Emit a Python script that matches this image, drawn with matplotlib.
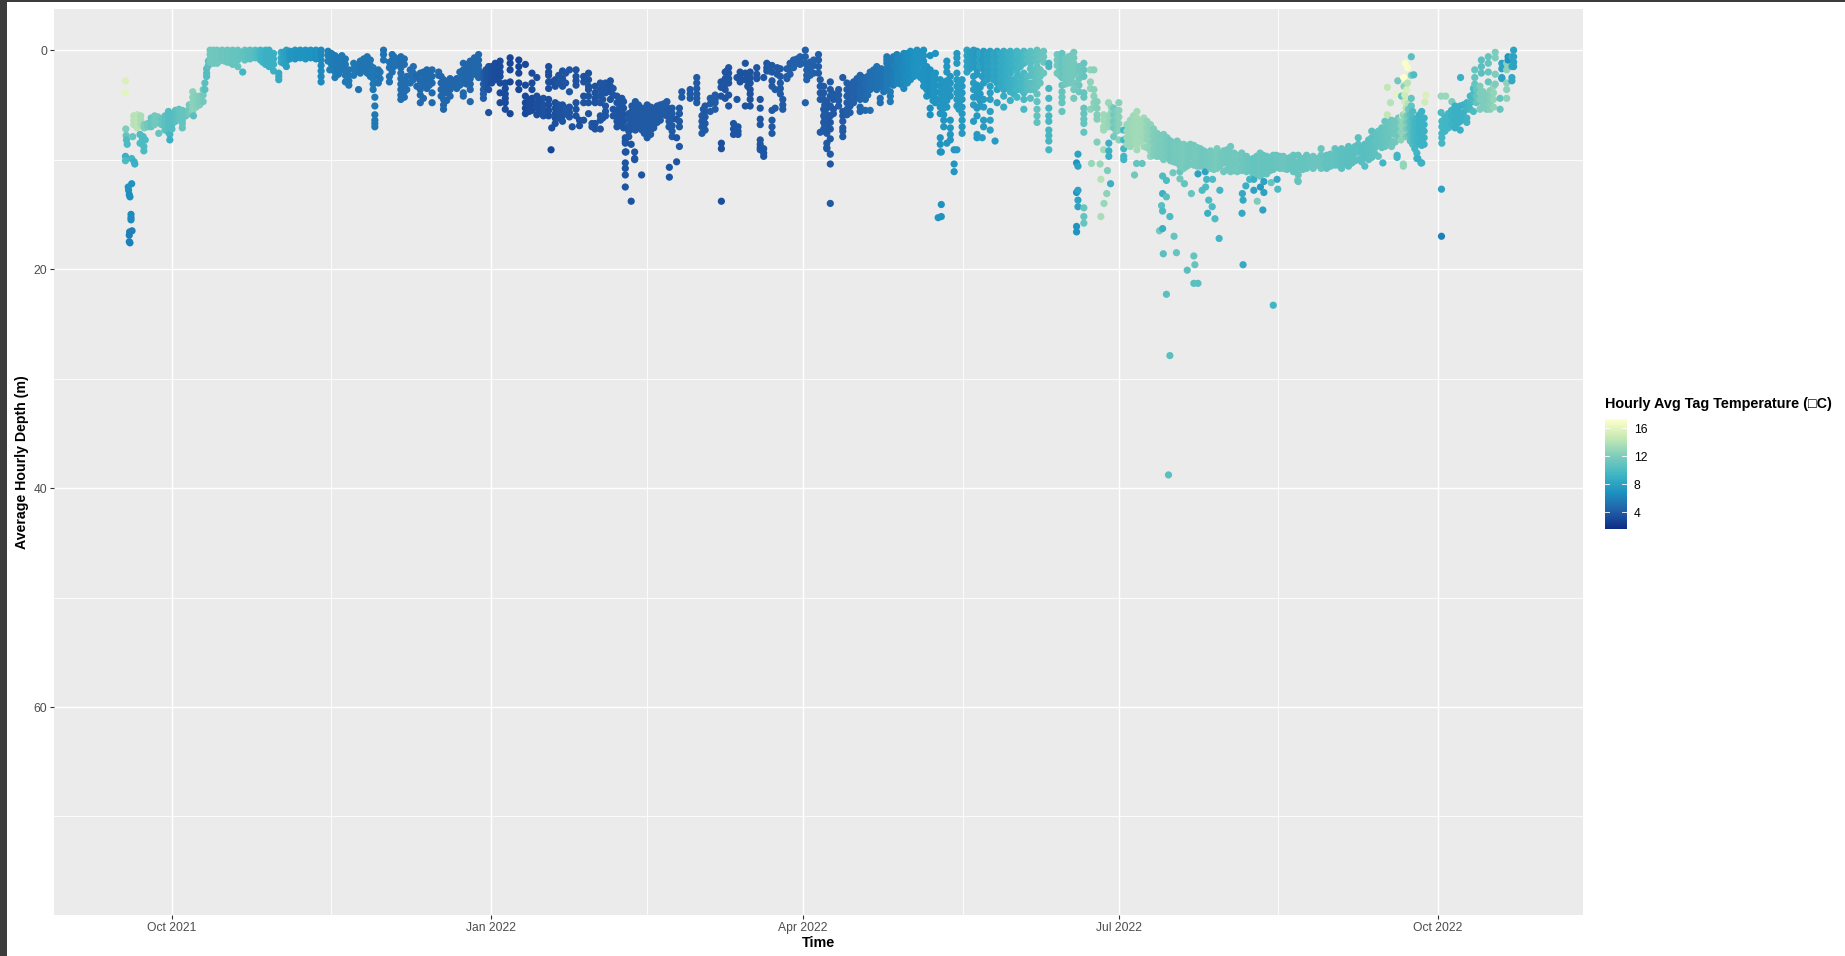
import matplotlib
matplotlib.use("Agg")
import matplotlib.pyplot as plt
import matplotlib.dates as mdates
from matplotlib.colors import LinearSegmentedColormap, Normalize
from matplotlib.cm import ScalarMappable
from matplotlib.patches import Rectangle
import numpy as np

plt.rcParams['font.family'] = ['Liberation Sans', 'DejaVu Sans']

# x values are days since 1 Oct 2021, y values are depth in metres, t is degrees C
origin_date = "2021-10-01"

sep21_days = [-11,-10,-9,-8,-7,-6,-5,-4,-3,-2,-1,0,1,2,3,4,5,6,7,8,9,9.5,10,10.5]
sep21_temps = [14,14.2,13.5,12,11.5,11,11.5,11.5,11,10.6,10.2,10.2,10.5,10.8,11,11,11.5,12.5,12.3,12,11.5,10.5,10.3,10.5]
sep21_depths = [[6.0,6.4,6.8],[5.9,6.3,6.7,7.1],[6.0,6.4,6.8],[6.8,7.1],[6.7,7.0],[6.2,6.6,7.0],[6.0,6.4,6.8],[6.1,6.6],[6.3,6.8],
 [6.0,6.4,6.9,7.3],[5.6,6.0,6.5,7.0,7.5],[5.8,6.3,6.8,7.2],[5.5,6.0,6.5],[5.4,5.8,6.3],[5.5,6.0,6.4],[5.6,6.0],[5.0,5.4,5.8],
 [3.8,4.3,4.8,5.2,5.6],[4.2,4.7,5.2],[4.2,4.6,5.0],[3.6,4.1,4.7],[3.0,3.6],[1.7,2.1,2.4],[1.0,1.4]]

oct21_days = [11,12,13,14.5,16,17.5,19,20.4,21,22.5,24,25.5,27,28,29.3,30.8,31.5,33,34,35.5,37,38.5,40,41.5,43,45,45.5]
oct21_temps = [11.4,11.4,11.3,11.2,11.1,11,11,9.5,10.8,10.5,10.2,9.5,9.2,9,9,8.6,8.6,7.8,7.3,7.2,7.1,7,6.9,6.8,6.4,6,6]
oct21_depths = [[0,.4,.8,1.1],[0,.4,.8,1.2],[0,.4,.8,1.2],[0,.4,.8],[0,.4,.8,1.1],[0,.4,.8,1.3],[0,.4,.9,1.5],[2.0],[0,.4,.9],[0,.4,.8],
 [0,.4,.7],[0,.4,.9],[0,.5,1,1.3],[0,.5,1,1.5],[.3,.8,1.3,1.9],[2.1,2.4,2.7],[.2,.7,1.1],[0,.5,1,1.5],[.1,.5,.8],[0,.4,.8],[0,.4,.7],[0,.4,.8],[0,.4,.7],[0,.4,.8],
 [0,.4,.9,1.4,1.9,2.4,2.9],[.1,.5,1.0],[1.8]]

nov21_days = [47,49,51,52.4,53.8,54.3,56.3,58,58.5,59.5,61,62.7,64,66]
nov21_temps = [5.7,5.6,5.5,5.5,5.3,5.4,5.4,5.5,5.6,5.4,5.3,5.2,5.2,5.0]
nov21_depths = [[.5,1,1.5,2,2.5],[.5,1,1.5,1.8],[1.8,2.3,2.8,3.2],[1.2,1.7,2.3],[3.6],[1,1.5,2.1],[.6,1.1,1.6,2.1],[1.6,2.1,2.6,3.1,3.6],
 [4.3,5.1,5.9,6.4,6.7,7.0],[1.8,2.4,3.0],[0,.4,.9],[1.1,1.6,2.4,2.9],[.6,1,1.5],[.6,1.1,1.6,2.1,2.6,3.1,3.6,4.1,4.5]]

dec21_days = [67.7,69.6,71.6,73.5,75,76.9,78.3,80.2,82.1,84,86,88.4,89.8,91.3,93.2,94.6,96.1,97.5,100,101.9,103.8,105.2,107.1,108.6,109.3,109.5,110.5]
dec21_temps = [5,5,4.8,4.8,4.8,4.8,4.6,4.6,4.6,4.7,4.6,4.7,4.2,3.6,3.3,3.2,3.2,3.0,3.0,3.1,3.2,3.4,3.6,3.4,2.9,3.4,3.5]
dec21_depths = [[2.4,3,3.6],[1.5,2.1,2.7],[2.1,2.8,3.6,4.1,4.8],[1.8,2.4,3,3.5],[1.8,2.4,3,3.9,4.8],[2,2.3],[2.7,3.3,3.9,4.5,5,5.4],[2.6,3.1,3.6,4.2],
 [2.6,3,3.5],[1.2,1.8,2.4,3,3.9,4.2],[1,1.5,2,2.6,3.1,3.6,4.7],[.4,.9,1.4,1.8,2.2,2.5],[2.1,2.6,3.1,3.6,4,4.4],[1.5,2,2.5,3,3.6,5.7],
 [1.2,1.7,2.2,2.7],[1,1.5,2,2.4,3,3.9,4.8],[3,3.5,4,4.4,4.8,5.4],[.7,1.2,1.8,2.9,5.8],[.9,1.5,2.1,3,3.6],[1.3,3.2,4.2,4.8,5.3,5.8],[2.1,3,3.6,4.4,4.9,5.5],[2.5,4.2,4.8,5.3,5.9],
 [4.4,5,5.5,6],[1.5,2,2.3,2.9,3.5,4.5,5,5.5,6],[9.1],[7.1,2.9],[2.7,3.3,4.8,5.3,5.8,6.2,6.7]]

jan22_days = [112.6,114.6,115.4,116.5,117.5,118.7,120.1,121.1,122,123.5,125,126.4,128.3,129.7,130.7,130.9,131.7,132.4,133.4,133.6,135.4,135.5,137,138.9,140.8,142.7,143.4,144.2,145.5,146.3]
jan22_temps = [3.6,3.8,3.6,3.6,3.5,3.6,3.6,3.8,3.6,3.7,3.8,3.6,3.8,3.8,3.8,3.7,3.9,3.6,3.7,4,3.7,4,4,4,4,4.1,3.8,4,3.8,3.9]
jan22_depths = [[1.9,2.6,3.3,5,5.5,6,6.5],[1.8,3.8,5.2,5.7,6.1],[7.0],[1.8,2.4,2.8,3.2,4.8,5.4,6],[6.4,6.9],[2.4,2.9,4.2,4.8,6.4],[2.1,2.7,3.3,3.6,4.2,4.8,5.8],[7,6.7],
 [3.3,3.9,4.4,4.8,6.7,7.2],[3,3.6,4.2,4.8,6,6.4,7.2],[3,3.5,3.9,5.1,5.6,6],[2.8,3.3,3.8,4.5],[4.2,4.8,5.5,6,6.5,7],[4.4,5.1,5.6,6.2,6.9],[8,8.3,8.5,9.3,10.3,10.8,11.4,12.5],[9.3],
 [5.8,6.3,6.9,7.4,7.9],[13.8,8.6],[9.9,9.3,10],[4.7,5.3,5.9,6.4,6.9,7.3],[11.4],[5.3,5.8,6.3,6.8,7.3],[5,5.5,6,6.5,7,7.5,8],[5.3,5.8,6.3,6.9,7.1],[5,5.5,6,6.4],[4.7,5.2,5.6,6],[10.7,11.6],[5.3,5.8,6.3,6.9,7.4,7.9],[8,10.2,6.3],[5.3,5.8,6.5,7,8.8]]

mar22_days = [147,149.4,151.3,152.8,153.7,155.2,156.6,158.3,158.4,159.5,160.5,161.9,162.9,163.2,163.8,165.3,166.7,168.6,169.6,170.6,171.5,173,173.9,175.4,176.1,177.3,179.2,181.1,182.6,183,185,186.4]
mar22_temps = [4,3.9,4,4,3.9,4.1,4.1,3.8,3.4,3.7,3.7,3.8,3.8,3.8,3.6,3.6,3.6,3.7,3.8,3.8,3.8,3.9,4,4,4,4.2,4.3,4.4,4.3,4.4,4.3,4.2]
mar22_depths = [[3.8,4.3],[3.6,4,4.4],[2.5,3,3.5,4,4.4,4.8],[6,6.5,7,7.6],[5.1,5.6,6.1,6.7,7.3],[4.4,4.9,5.6],[4.1,4.5,4.8,5.4],[2.9,3.4,4.2],[8.5,9,13.8],[2,2.6,3.1,3.6,4.4],
 [1.6,2.1,2.6,3,4.1,5.1],[6.7,7.2,7.7],[4.5,2.5],[7,7.4,7.7],[2,2.4,2.9],[1.2,2.1,2.7,5.1],[2,2.5,3,3.6,4,4.5,5.1],[1.6,2.2,2.6],[4.5,5.3,6.3,6.8,8.2,8.6,9.1,8.9],[2.5,9,9.4,9.7],
 [1.2,1.6,1.9],[1.4,2,2.8,3.3,5.5,6.4,7,7.6],[3.6,5.3],[1.7,2.4,3,3.5,4],[4.5,5,5.4],[1.7,2.4,2.6],[.9,1.3,1.6],[.6,1,1.3],[0,.6,1.2,4.8],[1.3,1.8,2.3,2.7],[.9,1.4,2.1],[.4,.9,1.5,2.1]]

apr22_days = [186.9,187.9,188.8,189.8,190.7,192.2,193.4,194.6,196.5,198.4,199.9,201.3,203.2,204.2,205.2,206.1,207.1,209,211,212.9,214.8,216.7]
apr22_temps = [4.1,4,4,3.9,4,4.1,4,4.2,4.4,4.6,4.8,5,5.2,5,5.3,5.6,5.6,6.1,6.4,6.7,7,6.9]
apr22_depths = [[2.7,3.3,3.9,4.5,7.5],[3.3,3.9,4.5,5.4,6,6.6,7.2],[4.7,5.3,5.9,6.5,7,7.6,8.9,8.5,9],[2.9,3.6,4.2,5.1,6,6.6,7.2,8.1,9.5,10.4,14],[4,4.5,5.4,5.8],[3.6,4.1,4.6,5.1],[2.5,5.6,6,6.5,7.1,7.9,7.4],[3,3.6,4.2,4.8,5.4,5.9],
 [2.9,3.4,3.9,4.5,4.8],[2.3,2.8,3.4,4,4.5,5.2,5.6],[2.6,3.2,3.8,4.5,5.5],[2,2.5,3.1,3.6,5.5],[1.5,2,2.6,3.1,3.6],[4.4,4.8],[2,2.5,3,3.5,3.8],[.6,.9,1.2,1.7,2.2,2.7,3.1,3.6],[1.7,2.2,2.8,3.1,3.8,4.2,4.7],
 [.4,.9,1.4,1.9,2.4,3],[.3,.8,1.3,1.8,2.3,2.8,3.5],[.1,.6,1.1,1.6,2.1,2.7],[0,.5,1,1.5,2.1],[0,.5,1,1.7,2.2,2.8,3.3]]

may22_days = [218.6,220.1,220.9,221.5,221.8,222.5,223.4,224.4,225.5,226.3,227.8,229.2,231.1,232.1,233.6,234,235.9,237.3,237.9]
may22_temps = [6.8,7,7,7,6.9,7.2,7.2,7.2,7.2,7.4,7.4,8,7.6,7.4,7.6,7.6,7.8,7.6,8]
may22_depths = [[.5,1.8,2.3,2.9,3.5,4.1,5.3,5.9],[.3,2.1,2.6,3.2,3.8,4.4,4.8],[15.3],[2.7,3.3,3.9,4.5,5.2,5.8,8,8.6,9.3],[9.3,14.1,15.2],[3,3.6,4.2,4.8,5.3,5.9,6.4,7],[1,1.5,2,2.8,3.4,4,4.6,5.2,8.5],[2.4,3,3.6,4.2,6.4,7.1,7.7,8.2],
 [10.4,11.1,9.1],[.3,.7,1.2,2.1,2.7,3.3,3.9,4.5,5.1,9.1],[2.7,3.3,3.9,4.5,5.2,5.8,6.4,7,7.6],[0,.5,1,1.5,2],[0,.5,1,1.5,2.4,3,3.6,4.3,5,6.5],[.1,.6,1.2,1.8,2.2,3.2,3.8,4.3,5.3,6,7.7,8],[8,.9,2.4],
 [.1,.6,1.2,1.8,2.4,3,4.5,5.2,6.4,7],[.1,.6,1.2,1.8,2.4,3.3,3.9,4.5,5.6,6.4,7.3],[8.3],[.1,.6,1.2,1.8,2.4,3,3.6,4.8]]

jun22_days = [239.8,241.7,243.6,245.6,247.5,249.4,251.3,252.8,255.2,256.6,258.5,260,260.8,261.2,262.9,264.8,265.8,266.7]
jun22_temps = [8.6,9,9.4,9.8,10.4,10.8,11.2,9.6,11.4,11,11.5,11.6,7,8,11,12.6,12.4,12.2]
jun22_depths = [[.1,.6,1.2,1.8,2.4,3,3.6,4.2,5.2],[.1,.6,1.2,1.8,2.1,2.7,3.2,3.8,4.6],[.1,.6,1.2,1.9,2.4,3,3.6,4.3],[.1,.6,1.2,2.1,2.7,3.3,3.9,4.5,5.4],[.1,.6,1.2,1.7,2.3,3,3.6,4.4],
 [0,.4,1,1.5,2.1,2.7,3.3,4,4.7,5.4,6,6.6],[.1,.6,1.1,2.1],[1.2,1.5,3.5,4.4,5.3,6,6.5,7.3,7.8,8.3,9.1],[.4,.9,1.4,2.1],[.3,.8,1.3,1.9,2.5,3.2,3.8,4.3,4.8,5.6],[.6,1.1,1.6,2.1,2.6,3],
 [.2,.7,1.2,1.7,2.2,3,3.6,4.4],[10.3,16.1,16.6,13],[9.5,10.6,12.8,13.7,14.3],[1.2,1.8,2.4,3.9,4.3,5.3,5.8,6.3,6.7,7.5,14.4,15.2,15.8],[1.8,2.9,3.5,5.4],[1.8,3.6,4.2,4.8,5.2],[4.7,5.3,5.9,6.3,8.4]]

jul22_days = [268.6,270,270.1,271.5,273,274.4,276.3,278.2,280.2,282.1,284,285.9,287.9,289.8,291.7,293.6,295.6,297.5,299.4,301.3,303.2,305.2,307.1,309.8,311.7,313.7,315.6,317.5]
jul22_temps = [13.2,13,9,11.5,12.4,9.5,13,13.4,13.2,12.6,12,11.8,11.4,11.6,11.8,11.5,11.7,11.4,11.6,11.8,11.5,11.4,11.5,11.2,11,11.2,11,11]
jul22_depths = [[5.9,6.4,7,7.3,9.1],[4.8,6,6.6,7],[8.5,9.2,9.7],[5.3,5.9,6.5,7.1,7.9],[4.8,5.5,6.1,6.7,7.3,8.2],[7.3,8.2,9,9.7,10],[6.4,7.1,7.7,8.3,8.8],[5.6,6.2,6.8,7.4,8,8.6,9.1],[6.2,6.8,7.4,8,8.8],[6.8,7.3,7.9,8.5,9.2,9.7],
 [7.6,8.2,8.7,9.2,9.7],[7.7,8.3,8.9,9.4,10],[8.3,8.8,9.4,10.1],[8.3,8.8,9.4,10,10.3],[8.6,9.2,9.8,10.3,10.8],[8.6,9.1,9.7,10.4],[8.9,9.5,10,10.6],[9.2,9.7,10.2,10.5],[9.2,9.7,10.3,10.8],[9,9.6,10.2,10.8],[9.2,9.8,10.3,11.1],
 [8.8,9.4,10,10.6,11.1],[9.6,10.1,10.7,11.1],[9.7,10.2,10.7,11.1],[9.9,10.4,11,11.5],[9.4,10,10.5,11,11.5],[9.7,10.2,10.8,11.3],[9.6,10.1,10.6,10.9]]

aug22_days = [319.4,321.4,323.3,324.7,327.1,329,331.3,332.9,335.3,337.2,339.2,341.1,342,343.9,345.9,347.8,349.1,349.7,351.6,353.2,353.6,355,356.5,357.7,358.9,360.3,361]
aug22_temps = [11.2,11.2,11,11,11,11.2,11.2,10.8,10.8,10.6,10.5,10.5,10.5,10.4,10.6,10.8,9.5,11,11.3,9.5,11.4,12.8,11.4,10,9.4,9.2,9.2]
aug22_depths = [[9.7,10.2,10.8],[9.9,10.4,10.9],[9.6,10.1,10.6,11.1],[9.6,10.2,10.8,11.4,12],[9.6,10.1,10.8],[9.7,10.2,10.8],[9,9.6,10.2,10.8],[9.6,10.1,10.8],[9,9.6,10.1,10.5],[9,9.6,10.2,10.8],
 [8.8,9.4,10,10.6],[8.8,9.4,10.1],[8,8.6,9.2,10],[8.6,9.2,9.8,10.6],[7.4,8,8.6,9.2,9.8],[7.4,8,8.6,9.7],[10.3],[6.5,7.1,7.7,8.3,8.8],[6.4,7,7.6,8.3,8.8],[9.6,9.8],[6.2,6.8,7.4,8],[5.9,6.5,7.1,7.8,10.4,10.6],
 [5.4,6,6.6,7.2,7.8],[5.6,6.2,6.8,7.4,8,8.6],[6.2,6.8,7.4,8,8.6,9.4,9.9],[5.6,6.2,6.8,7.4,8,8.7,10.3],[6.2,6.8,7.4,8,8.6]]

oct22_days = [366.1,368,369.9,371.4,373.3,375.2,375.6,377.1,377.5,379,379.5,381,381.5,382.9,383.4,384.8,385.2,386.3,386.8]
oct22_temps = [9.6,9.4,9,9,9.3,10,11,12,10.5,12,11,12.8,12,11,8,12.5,7,8.5,8]
oct22_depths = [[6.5,7,7.6,8,8.5],[5.8,6.3,7.1],[5.1,5.7,6.3,7.1],[5.1,5.8,6.5,7.3],[4.8,5.4,6.2,6.6],[3.5,4,4.7,5.6],[1.8,2.5,3.1],[3.3,3.9,4.5,5.4],[.9,1.5,2.1],[4.1,4.7,5.4],[.6,1.2,2,2.9],[3.3,3.9,4.5,5.2],[.2,.7,2.2,3.1],[4.4,5.4],[1.2,1.7,2.5,2.6],[1.2,1.8,3,3.6,4.4],[.6,.9],[.6,1.5,2.5,2.8],[0,.6,1.1,1.5]]

# more points read between the columns above, where the cloud is dense
early_fill_days = [11.7,13.7,15.2,16.7,18.2,20,21.7,23.2,24.7,26.2,27.5,32.2,34.7,36.2,37.7,39.2,40.7,42.2,46,48,50,53,55.3,57.2,60,63.5,65,67,68.7,70.6,72.5,74.2,77.6,79.2,81.2,83,85,87.2,90.5,92.2,103,106.2,111.5,113.5,124.2,127.2,129,130.2,132.6,134.5,136.2,138,139.9,141.8,143.3]
early_fill_temps = [11.4,11.4,11.3,11.2,11,10.8,10.6,10.4,10,9.3,9,8,7.2,7,7,7,7,7,5.8,5.6,5.5,5.5,5.4,5.4,5.4,5.2,5.2,5,5,4.8,4.8,4.8,4.6,4.6,4.6,4.7,4.6,4.7,3.8,3.4,3.2,3.4,3.6,3.7,3.7,3.7,3.8,3.8,3.9,4,4,4,4,4.1,4]
early_fill_depths = [[.2,.6,1],[.2,.6,1],[.2,.6,1],[.2,.6,1.1],[.2,.7,1.2],[.2,.6],[.2,.6],[.2,.6],[.2,.6],[.2,.7,1.1],[.2,.7,1.2],[.2,.7,1.2],[.2,.6],[.2,.6],[.2,.6],[.2,.6],[.2,.6],[.2,.6],
 [.3,.8,1.3],[.7,1.2,1.7,2.2],[.8,1.3,1.8,2.3,2.9],[1.4,1.9],[.8,1.3,1.8],[.9,1.4,1.9,2.4],[2,2.6],[.4,.9,2],[.8,1.3],[.8,1.3,2.8,3.3,3.8,4.3],[1.8,2.4,3],[2.4,3.3],[2,2.6,3.2,4.4],[2.1,2.7,3.2],[2.4,3,3.6,4.2],[2.9,3.4,3.9,4.6],[2.8,3.3],[2,2.6,3.2],[1.3,1.9,2.5,3.1],[.7,1.2,1.7,2.2],[1.8,2.3,2.8,3.3],[1.5,2,2.5,3],
 [4.6,5.1,5.6],[4.5,5,5.6],[2.3,3,5,5.6,6.2],[2.1,3,5.3,5.8],[3.3,3.9,4.5,6.2],[3.5,4.1,5.4,6],[4.7,5.3,5.9,6.4],[4.7,5.3,5.9,6.5,7.1],[5.1,5.6,6.2,6.7,7.2],[5,5.6,6.1,6.6,7.1],[5.4,6,6.5,7,7.6],[5.2,5.7,6.2,6.8,7.3,7.7],[5.1,5.6,6.1,6.6],[4.9,5.4,5.9],[5.5,6,6.5,7]]

mid_fill_days = [153.2,160,166,172.3,174.5,178.2,180.2,184,188.2,195.5,197.5,199.2,200.6,202.3,204.5,206.6,208,210,212,213.9,215.8,217.6,219.4,222,226.9,230,232.8,233,235,236.8,238.8,240.8,242.7,244.6,246.5,248.5,250.3,256,257.5,259.3,261.5]
mid_fill_temps = [4,3.7,3.6,3.9,3.9,4.2,4.3,4.3,4,4.2,4.4,4.7,4.9,5.1,5.2,5.6,5.8,6.2,6.6,6.9,7,6.9,7,7.2,7.4,7.8,8,7.4,7.9,8.2,8.5,8.8,9.2,9.6,10.2,10.6,11,11.3,11.4,11.5,11.3]
mid_fill_depths = [[5.4,5.9,6.4,7],[1.9,2.4,2.8],[2.3,2.8,3.3],[1.4,1.9],[1.6,2.2],[1.2,1.7,2.2],[.8,1.2],[1.1,1.7,2.3],[5,5.6,6.2,6.8,7.4],[3.3,3.9,4.5,5.1,5.7],[2.6,3.2,3.7,4.3],[2.5,3.1,3.7,4.3],[2.4,2.9,3.4,4.1],[1.8,2.3,2.9,3.4],[1.7,2.3,2.8,3.3],[1,1.5,2,2.5,3],[.6,1.1,1.7,2.2,2.7,3.2],[.6,1.1,1.6,2.1,2.6,3.1],[.3,.8,1.3,1.9,2.4,3],[.2,.7,1.3,1.8,2.4],[.2,.7,1.2,2,2.5],[1.5,2,2.6,3.1,3.6,4.2],[2.3,2.9,3.5,4.1,4.6],
 [2.9,3.5,4.1,4.7,5.3],[3,3.6,4.2,4.8,5.4],[.2,.7,1.2,1.7],[.3,.9,1.5],[3.4,4,4.6,5.1],[.3,.9,1.5,2.1,2.7],[.3,.9,1.5,2.1,2.7],[.3,.9,1.5,2.1,2.7,3.3],[.3,.9,1.5,2.1,2.7,3.3],[.3,.9,1.5,2.7,3.3,4],[.3,.9,1.5,2.4,3,3.6],[.3,.9,2.4,3,3.6],[.3,.9,1.8,2.4,3,3.6],[.3,.8,1.8,2.4,3],[.6,1.1,1.7,2.3],[.8,1.3,1.9,2.5,3.1],[.5,1,1.5,2,2.5,3],[1.5,2,2.6,3.2,3.8]]

late_fill_days = [270.8,272.2,275.3,277.2,279.2,281.1,283,285,286.9,288.8,290.7,292.6,294.6,296.5,298.4,300.4,302.2,304.2,306.2,308.4,310.8,312.7,314.6,316.6,318.4,320.4,322.4,326,328,330,332,334,336.2,338.2,340.2,343,345,346.9,348.8,350.6,352.6,354.3,355.8,357,358.3,359.6,367,368.9,370.6,372.3,374.3,376.1,378,380]
late_fill_temps = [12.8,12,13,13.2,13.3,12.8,12.2,11.9,11.6,11.6,11.7,11.6,11.6,11.5,11.5,11.7,11.6,11.4,11.4,11.3,11.1,11,11,11,11.1,11.2,11,11,11.1,11.2,11,10.8,10.7,10.6,10.5,10.4,10.5,10.7,10.9,11.2,11.4,12.5,12,10.5,9.6,9.2,9.5,9.2,9,9.1,9.6,11,12,12.3]
late_fill_depths = [[5.2,5.7,6.3,6.8],[5.6,6.2,6.8,7.4],[6.8,7.4,8,8.6],[6,6.6,7.2,7.8,8.4],[6.5,7.1,7.7,8.3],[6.5,7.1,7.7,8.2,8.9],[7.2,7.8,8.4,9,9.6],[7.8,8.5,9.1,9.7],[8,8.6,9.1,9.7],[8.6,9.1,9.7,10.2],[8.6,9,9.6,10.1,10.6],[8.8,9.4,10,10.6],[8.7,9.3,9.9,10.5],[9,9.5,10.1,10.6],[9.4,10,10.5],[9.4,9.9,10.5,10.9],[9.5,10,10.6],[9.1,9.7,10.3,10.9],[9.4,10,10.5,11],[9.4,10,10.6,11],[10,10.5,11],[9.7,10.2,10.8,11.3],[9.6,10.2,10.8,11.3],[9.8,10.4,11],[9.6,10.1,10.7],[9.7,10.3,10.8],[9.8,10.3,10.8],
 [9.9,10.4,10.9],[9.9,10.5],[9.9,10.5],[9.8,10.4],[9.5,10,10.6],[9.3,9.9,10.5],[9.2,9.8,10.4],[9.1,9.7,10.3],[8.9,9.5,10.2],[8.2,8.8,9.4,10],[7.7,8.3,8.9,9.5],[7.1,7.7,8.3,8.9],[6.7,7.3,7.9,8.6],[6.5,7.1,7.7,8.4],[6.3,6.9,7.5,8.2],[6,6.6,7.2,7.9],[5.9,6.5,7.1,7.7,8.3],[6.5,7.1,7.7,8.3,9],[5.9,6.5,7.1,7.7,8.4],
 [6.1,6.7,7.4],[5.5,6,6.7],[5.4,6,6.7],[5,5.7,6.3],[4.2,4.8,5.4],[3.6,4.2,4.8],[3.8,4.4,5],[3.7,4.3,4.9,5.4]]

# isolated points
spot_days = [-13.4,-13.4,-13.3,-13.2,-13.1,-12.9,-13.4,-13.4,-11.6,-10.9,-10.7,-11.6,-12.6,-12.5,-12.3,-12.1,-11.8,-11.8,-11.8,-12.2,-11.5,-12.3,-12.3,-12.1,
 -11.3,-9.2,-8.3,-9.2,-7.7,-8.1,-8.1,-8.5,-3.8,-0.6,-0.6,3,3,6.2,
 265.1,267.6,269.7,267.8,270.6,269.5,268.7,267.8,277.5,278.1,279.7,285.6,286.7,285.6,286.7,285.3,285.6,287.7,285.6,284.7,288.9,285.8,289.6,294.6,294.9,292.7,294.6,295.8,286.7,
 288.6,290.6,290.6,291.9,293.9,297,298,298.3,300,298.9,299.9,298.6,300.7,301.9,302.1,308.8,308.5,308.8,308.6,309.6,310.7,311.9,311.9,313.8,314.8,314.8,314.5,312.9,316.9,318.8,318.6,295.8,297.9,324.5,
 287.7,287.3,317.5,
 355.5,356.2,355.1,357.3,358,357.3,353.4,355.2,356.2,350.4,356,353.1,354.5,355.4,357.3,361.5,361.2,351.3,355.4,356.4,357.3,355.8,355.7,350.4,354.8,359.2,360.1,
 365.9,367.2,365.9,369,371.5,366,366]
spot_depths = [2.8,3.9,7.2,7.8,8.2,8.6,9.7,10.1,9.9,10.2,10.4,12.2,12.5,12.8,13.2,13.4,15,15.3,15.5,16.6,16.5,16.9,17.5,17.6,
 7.9,7.7,7.9,8.5,8.2,8.8,9.2,8.1,7.6,7.7,8.2,7.1,6.7,6.0,
 10.35,10.4,11,11.8,12.2,13.1,14,15.2,11.4,10.35,10.35,11.5,11.9,13.1,13.4,14.2,14.7,15.2,16.3,16.5,17,18.6,18.5,18.8,19.6,20.1,21.3,21.3,22.3,
 11.2,11.1,11.75,12.2,13.1,12.8,12.5,11.8,11.8,13.7,14.3,14.9,15.4,17.2,12.8,19.6,14.9,13.7,13.1,12.4,11.8,11.8,12.8,12.5,12,13,14.6,13.8,12.1,12.7,11.8,11.3,11.1,11.9,
 27.9,38.8,23.3,
 1.2,1.6,2.5,.6,2.25,2.3,2.8,3.3,3,3.4,3.6,4,4.2,4.1,4.4,4.1,4.75,4.8,4.7,4.9,5.1,5.3,5.8,5.9,6,9.9,10.3,
 4.2,4.2,5.7,4.7,2.5,12.7,17]
spot_temps = [15.5,16,12,11,10,10,9,10,9.5,9,9,7,7,7,6.8,6.8,6.5,6.5,6.5,6,6,6,6,6,
 11,10,10,10,10,10,10,10,11,9.5,9,11,11,10.5,
 13,13,12,14,9,12.5,13,13.5,11.5,11,11,10,10,9,10.5,10.5,10,10,9,11.5,11,10.5,11,11,11,10.5,10.5,10.5,10.5,
 11.5,11,11.5,11,11,10,10,9.5,10,10,10,9,10,9.5,9.5,8.5,8.5,8.5,8.5,9,9.5,9,8,7.5,8,8,8,12,11,10,8.5,8,8,12,
 10.5,10.5,9.5,
 17,17,17.3,10.5,10,12,11.5,12.5,14,14.5,15.5,16,11,15,11,15.5,15,14,15,14,11,14,14.5,14.5,15,9,8.5,
 13,13,10,12,9,8,6]

sections = [(sep21_days, sep21_temps, sep21_depths), (oct21_days, oct21_temps, oct21_depths), (nov21_days, nov21_temps, nov21_depths),
            (dec21_days, dec21_temps, dec21_depths), (jan22_days, jan22_temps, jan22_depths), (mar22_days, mar22_temps, mar22_depths),
            (apr22_days, apr22_temps, apr22_depths), (may22_days, may22_temps, may22_depths), (jun22_days, jun22_temps, jun22_depths),
            (jul22_days, jul22_temps, jul22_depths), (aug22_days, aug22_temps, aug22_depths), (oct22_days, oct22_temps, oct22_depths),
            (early_fill_days, early_fill_temps, early_fill_depths), (mid_fill_days, mid_fill_temps, mid_fill_depths),
            (late_fill_days, late_fill_temps, late_fill_depths)]

x_vals, y_vals, c_vals = list(spot_days), list(spot_depths), list(spot_temps)
for days, temps, depths in sections:
    for d, t, ds in zip(days, temps, depths):
        for v in ds:
            x_vals.append(d); y_vals.append(v); c_vals.append(t)
x_vals, y_vals, c_vals = map(np.array, (x_vals, y_vals, c_vals))
order = np.argsort(x_vals, kind="stable")
base = mdates.datestr2num(origin_date)

palette = ["#0C2C84", "#225EA8", "#1D91C0", "#41B6C4", "#7FCDBB", "#C7E9B4", "#FFFFCC"]
cmap = LinearSegmentedColormap.from_list("ylgnbu_r", palette)
norm = Normalize(1.6, 17.3)

W, H = 1845, 956
fig = plt.figure(figsize=(W / 100, H / 100), dpi=100, facecolor="white")
ax = fig.add_axes([54 / W, 1 - 915 / H, (1583 - 54) / W, (915 - 9) / H], facecolor="#EBEBEB")

ax.scatter(base + x_vals[order], y_vals[order], c=c_vals[order], cmap=cmap, norm=norm, s=27, linewidths=0, zorder=3)

ax.set_xlim(base - 34, base + 406.8)
ax.set_ylim(79, -3.76)

x_ticks = ["2021-10-01", "2022-01-01", "2022-04-01", "2022-07-01", "2022-10-01"]
x_labels = ["Oct 2021", "Jan 2022", "Apr 2022", "Jul 2022", "Oct 2022"]
x_minor = ["2021-11-16", "2022-02-15", "2022-05-17", "2022-08-16"]
y_ticks = [0, 20, 40, 60]
y_minor = [10, 30, 50, 70]

ax.set_xticks(mdates.datestr2num(x_ticks), x_labels)
ax.set_xticks(mdates.datestr2num(x_minor), minor=True)
ax.set_yticks(y_ticks)
ax.set_yticks(y_minor, minor=True)
ax.grid(True, which="major", color="white", linewidth=1.05, zorder=1)
ax.grid(True, which="minor", color="white", linewidth=0.6, zorder=1)
ax.set_axisbelow(True)
ax.tick_params(which="minor", length=0)
ax.tick_params(which="major", length=2.7, width=0.8, color="#333333", labelcolor="#4D4D4D", labelsize=8.7, pad=2.4)
for s in ax.spines.values():
    s.set_visible(False)

fig.text(819 / W, 1 - 943 / H, "Time", fontsize=10.4, fontweight="bold", ha="center", va="center")
fig.text(21.7 / W, 1 - 462 / H, "Average Hourly Depth (m)", fontsize=10.2, fontweight="bold", rotation=90, ha="center", va="center")

# colour legend
cax = fig.add_axes([1604.7 / W, 1 - 529.3 / H, 22 / W, 110.3 / H])
cb = fig.colorbar(ScalarMappable(norm=norm, cmap=cmap), cax=cax)
cb.outline.set_visible(False)
legend_ticks = [4, 8, 12, 16]
cb.set_ticks(legend_ticks, labels=[str(v) for v in legend_ticks])
cax.tick_params(length=0, labelsize=8.7, labelcolor="black", pad=5)
cax.minorticks_off()
for v in legend_ticks:
    cax.plot([0, 0.2], [v, v], color="white", lw=0.6, transform=cax.get_yaxis_transform())
    cax.plot([0.8, 1], [v, v], color="white", lw=0.6, transform=cax.get_yaxis_transform())
fig.text(1604.7 / W, 1 - 404.5 / H, "Hourly Avg Tag Temperature (\u25a1C)", fontsize=10.4, fontweight="bold", ha="left", va="center")

# dark window edge of the source screenshot
fig.add_artist(Rectangle((0, 0), 7 / W, 1, transform=fig.transFigure, facecolor="#3C3C3C", edgecolor="none"))
fig.add_artist(Rectangle((0, 1 - 2 / H), 1, 2 / H, transform=fig.transFigure, facecolor="#3C3C3C", edgecolor="none"))

fig.savefig("out.png", dpi=100)
